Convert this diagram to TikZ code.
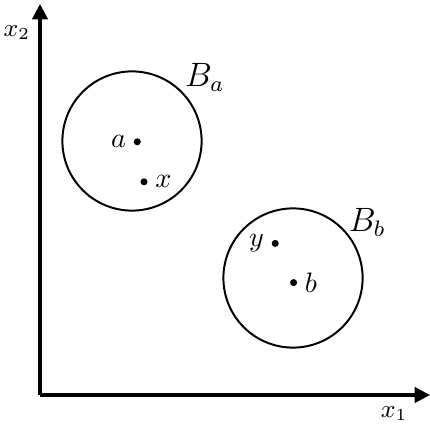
\documentclass[tikz,border=0pt]{standalone}
\usepackage{amsmath,amssymb}
\usepackage{tikz}
\usetikzlibrary{arrows.meta}

\begin{document}
\begin{tikzpicture}[every node/.style={font=\normalsize}, >={Triangle[length=5.5pt,width=5.5pt]},
	dot/.style={circle, fill, inner sep=0pt, minimum size=2.5pt}]
	\useasboundingbox (0,0) rectangle (5.375,5.3125);
	% axes
	\coordinate (O) at (0.5,0.375);
	\coordinate (xend) at (5.375,0.375);
	\coordinate (yend) at (0.5,5.2625);
	\draw[->, line width=1.1pt] (O) -- (xend);
	\draw[->, line width=1.1pt] (O) -- (yend);
	\node[font=\small] (lx1) at (4.925,0.14) {$x_1$};
	\node[font=\small] (lx2) at (0.21,4.91) {$x_2$};
	% ball around a
	\draw[line width=0.7pt] (1.65,3.55) circle (0.87);
	\node[dot] (a) at (1.716,3.54) {};
	\node[left=0.5pt] at (a) {$a$};
	\node[dot] (x) at (1.80,3.04) {};
	\node[right=0.5pt] at (x) {$x$};
	\node[font=\large] (Ba) at (2.56,4.34) {$B_a$};
	% ball around b
	\draw[line width=0.7pt] (3.6625,1.8375) circle (0.87);
	\node[dot] (b) at (3.67,1.78) {};
	\node[right=0.5pt] at (b) {$b$};
	\node[dot] (y) at (3.44,2.27) {};
	\node[left=0.5pt] at (y) {$y$};
	\node[font=\large] (Bb) at (4.59,2.53) {$B_b$};
\end{tikzpicture}
\end{document}
